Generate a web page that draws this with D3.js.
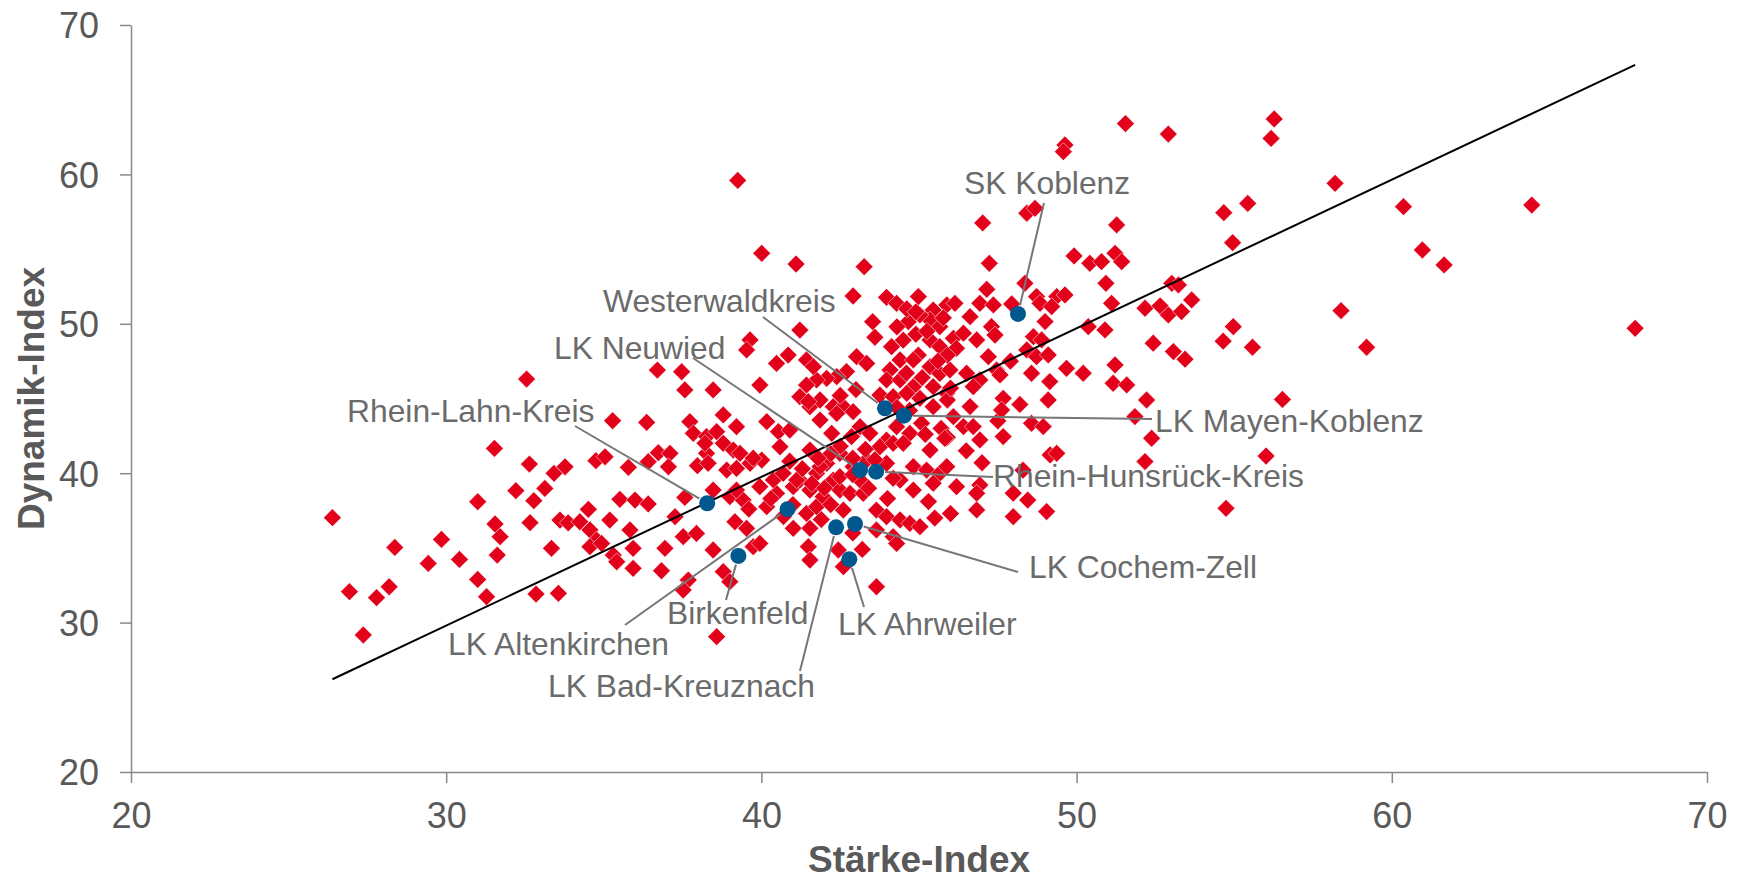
<!DOCTYPE html>
<html>
<head>
<meta charset="utf-8">
<script src="https://cdn.jsdelivr.net/npm/d3@7"></script>
<style>
body { margin: 0; background: #fff; }
text { font-family: "Liberation Sans", Arial, sans-serif; }
</style>
</head>
<body>
<svg id="chart" width="1742" height="881"></svg>
<script>

// Stärke-Index (x) / Dynamik-Index (y) for every Kreis
var kreise = [
  [32.55,46.30],[36.70,46.90],[37.47,46.79],[37.57,45.57],[35.28,43.51],[36.36,43.40],[37.73,43.45],[37.84,42.67],
  [31.53,41.66],[32.64,40.61],[33.42,39.99],[33.77,40.43],[32.21,38.83],[33.13,38.98],[32.78,38.16],[31.00,38.09],
  [26.39,37.02],[34.75,40.84],[35.04,41.10],[35.78,40.39],[36.41,40.77],[36.73,41.37],[37.10,41.33],[37.05,40.43],
  [35.51,38.25],[35.99,38.20],[36.41,37.94],[37.57,38.38],[34.51,37.58],[35.19,36.86],[33.61,36.86],[33.87,36.68],
  [34.24,36.75],[34.56,36.20],[34.77,35.53],[34.56,35.08],[34.93,35.30],[32.66,36.69],[31.55,36.60],[31.71,35.75],
  [31.62,34.52],[33.34,34.97],[29.85,35.57],[30.42,34.23],[29.43,33.96],[28.37,35.03],[31.00,32.89],[31.28,31.73],
  [26.93,32.07],[27.79,31.67],[28.19,32.40],[27.37,29.17],[32.85,31.91],[33.56,31.96],[35.30,34.52],[35.41,34.07],
  [35.93,34.97],[35.83,36.20],[35.93,33.63],[36.83,33.47],[36.94,34.97],[37.26,37.09],[37.52,35.75],[37.94,35.97],
  [37.68,32.85],[37.52,32.18],[37.97,40.50],
  [41.10,54.00],[43.26,53.82],[42.91,51.86],[43.97,51.77],[44.29,51.37],[44.98,51.82],[45.45,50.92],[45.88,51.26],
  [46.14,51.37],[45.35,50.25],[45.66,49.81],[46.09,49.03],[45.35,48.92],[45.66,48.47],[46.19,48.36],[43.53,50.14],
  [44.66,50.14],[44.98,47.91],[44.13,48.47],[44.40,47.58],[44.82,47.58],[45.35,47.13],[45.66,46.68],[45.98,46.91],
  [44.08,46.91],[43.97,46.24],[44.40,46.24],[44.82,45.79],[45.45,45.79],[45.88,45.35],[45.45,44.45],[46.09,43.78],
  [45.08,43.34],[44.71,42.67],[43.97,42.22],[44.29,43.11],[43.76,45.23],[44.18,45.12],[43.02,47.80],[43.34,47.35],
  [42.70,46.80],[42.39,46.46],[42.07,46.35],[41.75,46.24],[41.43,45.90],[41.22,45.12],[41.54,44.45],[41.86,44.90],
  [42.28,44.45],[42.60,44.45],[42.91,44.12],[43.13,43.11],[43.44,42.67],[41.22,49.58],[39.64,48.92],[39.53,48.25],
  [40.48,47.35],[40.85,47.91],[41.43,47.58],[41.65,47.13],[38.47,45.57],[39.95,45.90],[38.79,43.90],[39.21,43.11],
  [40.17,43.45],[40.54,42.78],[41.49,44.79],[40.90,42.89],[41.86,43.56],[42.23,42.67],[42.86,42.45],[38.26,42.45],
  [38.58,42.78],[42.39,44.00],[44.61,45.35],[45.03,45.01],[44.61,51.00],[45.03,50.60],[45.77,50.40],[44.90,49.30],
  [45.25,49.50],[45.90,47.90],[44.50,48.90],[45.10,46.40],[44.70,44.20],[45.90,44.90],[44.30,44.40],[45.20,42.60],
  [45.70,43.00],[45.90,42.40],
  [38.26,41.33],[38.79,42.00],[39.11,41.55],[38.31,40.66],[38.90,40.21],[39.21,40.32],[39.32,41.33],[38.21,42.00],
  [40.59,41.77],[41.54,41.55],[42.07,40.66],[43.76,41.77],[44.18,42.00],[44.50,42.00],[45.35,41.55],[44.82,40.44],
  [45.24,40.21],[45.66,39.99],[45.88,40.44],[44.40,39.54],[44.82,38.87],[46.19,39.10],[45.45,39.32],[38.47,38.87],
  [39.00,38.43],[39.42,38.20],[39.21,38.87],[39.95,39.10],[40.17,37.76],[40.48,38.65],[41.01,39.10],[41.22,39.54],
  [41.54,38.87],[41.75,39.99],[41.43,37.31],[41.75,37.76],[41.96,38.43],[42.28,39.54],[42.49,38.87],[42.81,38.65],
  [42.60,37.53],[43.23,38.65],[43.65,37.53],[43.97,37.09],[44.40,36.87],[44.71,36.64],[45.03,36.42],[43.65,36.20],
  [44.18,35.75],[44.29,35.30],[39.16,36.75],[39.53,36.31],[39.74,35.08],[39.95,35.30],[41.01,36.31],[41.54,36.31],
  [41.49,35.08],[41.54,34.19],[42.44,34.86],[42.60,33.74],[38.47,34.86],[38.79,33.41],[39.00,32.74],[43.65,32.40],
  [38.58,29.06],[39.64,40.66],[40.01,40.88],[40.38,39.55],[40.69,39.99],[41.12,39.55],[41.86,40.44],[42.49,39.77],
  [44.18,39.66],[39.74,41.00],[45.82,42.33],[42.91,40.44],[43.34,40.88],[43.13,39.54],[43.97,40.66],[42.49,41.33],
  [42.50,41.80],[42.90,41.00],[43.30,41.60],[43.60,40.90],[42.20,41.30],[41.80,41.00],[41.30,40.30],[40.90,40.80],
  [41.60,39.30],[42.00,39.00],[42.90,39.90],[43.40,39.00],[42.20,37.90],[41.00,37.90],[40.70,37.10],[41.90,36.90],
  [42.90,36.00],[43.20,34.90],[40.30,38.30],[39.60,37.60],
  [44.30,49.80],[44.90,50.80],[45.60,47.50],[46.00,45.70],[44.60,46.70],[43.60,49.10],[43.00,45.60],[42.50,45.20],
  [47.20,47.80],[47.90,47.50],[47.50,43.50],[48.20,44.60],[47.00,40.70],[46.50,41.50],[48.30,40.20],[45.30,38.10],
  [44.00,38.30],[46.00,37.30],[45.50,37.00],
  [47.02,56.75],[48.42,57.40],[48.68,57.73],[51.27,56.62],[54.67,57.44],[54.95,55.43],[47.23,54.05],[49.92,54.54],
  [50.42,54.05],[50.79,54.16],[51.22,54.72],[51.43,54.16],[50.93,52.71],[48.36,52.71],[47.15,52.31],[46.93,51.37],
  [47.36,51.26],[47.94,51.33],[48.73,51.82],[48.84,51.37],[49.37,51.82],[49.63,51.93],[49.21,51.15],[51.11,51.37],
  [53.02,52.71],[53.23,52.60],[52.17,51.04],[52.65,51.20],[52.91,50.59],[53.33,50.82],[53.65,51.60],[46.62,50.48],
  [46.41,49.37],[46.83,48.92],[47.30,49.81],[47.41,49.25],[48.63,49.14],[48.89,48.92],[49.00,50.15],[50.37,49.81],
  [50.90,49.59],[52.43,48.70],[53.07,48.14],[53.44,47.63],[54.65,48.84],[54.97,49.81],[48.42,48.25],[48.73,47.80],
  [49.10,47.92],[46.51,46.69],[46.93,46.24],[46.72,45.79],[47.46,46.91],[47.57,46.58],[48.57,46.69],[49.15,46.13],
  [49.68,47.02],[50.21,46.69],[51.22,47.25],[51.16,46.02],[51.59,45.91],[52.22,44.90],[49.10,44.90],[47.67,45.01],
  [47.62,44.23],[46.62,44.46],[46.41,43.12],[46.72,43.12],[46.93,42.23],[47.67,42.45],[48.57,43.34],[48.94,43.12],
  [51.85,43.79],[52.38,42.34],[49.16,41.22],[49.37,41.33],[52.17,40.78],[46.93,39.21],[46.83,38.66],[47.99,38.66],
  [48.45,38.20],[46.83,37.54],[47.99,37.09],[49.05,37.43],
  [49.63,61.97],[49.58,61.52],[52.91,62.70],[51.55,63.40],
  [56.27,63.71],[56.17,62.41],[58.20,59.40],[55.43,58.06],[60.37,57.84],[64.44,57.95],[60.97,54.94],[61.66,53.94],
  [58.39,50.88],[55.58,48.43],[59.20,48.43],[67.72,49.70],[56.53,44.94],[56.01,41.15],[54.74,37.65],
  [40.01,54.72],[39.25,59.60]
];

// highlighted Kreise around Koblenz
var regionNames = ["SK Koblenz", "Westerwaldkreis", "LK Mayen-Koblenz", "LK Neuwied", "Rhein-Hunsrück-Kreis",
  "Rhein-Lahn-Kreis", "LK Altenkirchen", "LK Bad-Kreuznach", "LK Cochem-Zell", "LK Ahrweiler", "Birkenfeld"];
var regionStaerke = [48.14, 43.92, 44.52, 43.13, 43.64, 38.28, 40.83, 42.37, 42.97, 42.79, 39.27];
var regionDynamik = [50.66, 44.34, 43.85, 40.21, 40.10, 37.99, 37.59, 36.38, 36.60, 34.24, 34.46];

// linear trend line
var trendSlope = 0.995;
var trendIntercept = -0.05;

var xTicks = [20, 30, 40, 50, 60, 70];
var yTicks = [20, 30, 40, 50, 60, 70];

// where each label sits: text start [x, baseline] and end of leader line, in pixels
var labelLayout = {
  "SK Koblenz":           {tx: 964,  ty: 194, lx: 1044, ly: 203},
  "Westerwaldkreis":      {tx: 603,  ty: 312, lx: 763,  ly: 317},
  "LK Mayen-Koblenz":     {tx: 1155, ty: 432, lx: 1152, ly: 419},
  "LK Neuwied":           {tx: 554,  ty: 359, lx: 693,  ly: 358},
  "Rhein-Hunsrück-Kreis": {tx: 993,  ty: 487, lx: 993,  ly: 477},
  "Rhein-Lahn-Kreis":     {tx: 347,  ty: 422, lx: 575,  ly: 426},
  "LK Altenkirchen":      {tx: 448,  ty: 655, lx: 625,  ly: 625},
  "LK Bad-Kreuznach":     {tx: 548,  ty: 697, lx: 800,  ly: 671},
  "LK Cochem-Zell":       {tx: 1029, ty: 578, lx: 1018, ly: 572},
  "LK Ahrweiler":         {tx: 838,  ty: 635, lx: 864,  ly: 607},
  "Birkenfeld":           {tx: 667,  ty: 624, lx: 726,  ly: 600}
};

var svg = d3.select("#chart");

var x = d3.scaleLinear().domain([20, 70]).range([131, 1707]);
var y = d3.scaleLinear().domain([20, 70]).range([772, 25]);

var axisColor = "#898989";

// axes
var yAxis = svg.append("g")
    .attr("transform", "translate(131,0)")
    .call(d3.axisLeft(y).tickValues(yTicks).tickSize(11).tickSizeOuter(0).tickPadding(21).tickFormat(d3.format("d")));

var xAxis = svg.append("g")
    .attr("transform", "translate(0,772)")
    .call(d3.axisBottom(x).tickValues(xTicks).tickSize(11).tickSizeOuter(0).tickPadding(19).tickFormat(d3.format("d")));

[xAxis, yAxis].forEach(function(g) {
    g.attr("font-family", null).attr("font-size", null);
    g.select(".domain").attr("stroke", axisColor).attr("stroke-width", 1.5);
    g.selectAll(".tick line").attr("stroke", axisColor).attr("stroke-width", 1.5);
    g.selectAll(".tick text").attr("fill", "#595959").style("font-size", "36px");
});
yAxis.selectAll(".tick text").attr("dy", "0.36em");

// axis titles
svg.append("text")
    .attr("x", (x(20) + x(70)) / 2)
    .attr("y", 872)
    .attr("text-anchor", "middle")
    .attr("fill", "#595959")
    .style("font-size", "37px")
    .style("font-weight", "bold")
    .text("Stärke-Index");

svg.append("text")
    .attr("transform", "translate(44," + ((y(20) + y(70)) / 2) + ") rotate(-90)")
    .attr("text-anchor", "middle")
    .attr("fill", "#595959")
    .style("font-size", "37px")
    .style("font-weight", "bold")
    .text("Dynamik-Index");

// red diamonds
var diamond = d3.symbol().type(d3.symbolSquare).size(158);

svg.append("g")
    .selectAll("path")
    .data(kreise)
    .enter()
    .append("path")
    .attr("d", diamond)
    .attr("transform", function(d) {
        return "translate(" + x(d[0]) + "," + y(d[1]) + ") rotate(45)";
    })
    .attr("fill", "#e2001a")
    .attr("stroke", "#ffffff")
    .attr("stroke-width", 0.5);

// trend line over min..max of all points
var allX = kreise.map(function(d) { return d[0]; }).concat(regionStaerke);
var ext = d3.extent(allX);

svg.append("line")
    .attr("x1", x(ext[0]))
    .attr("y1", y(trendSlope * ext[0] + trendIntercept))
    .attr("x2", x(ext[1]))
    .attr("y2", y(trendSlope * ext[1] + trendIntercept))
    .attr("stroke", "#000")
    .attr("stroke-width", 2);

var regions = regionNames.map(function(n, i) {
    return {name: n, sx: regionStaerke[i], dy: regionDynamik[i], lay: labelLayout[n]};
});

var dotR = 8;

// leader lines from the dot edge to the label
svg.append("g")
    .selectAll("line")
    .data(regions)
    .enter()
    .append("line")
    .each(function(d) {
        var cx = x(d.sx), cy = y(d.dy);
        var vx = d.lay.lx - cx, vy = d.lay.ly - cy;
        var len = Math.sqrt(vx * vx + vy * vy);
        d3.select(this)
            .attr("x1", cx + vx / len * (dotR + 1))
            .attr("y1", cy + vy / len * (dotR + 1))
            .attr("x2", d.lay.lx)
            .attr("y2", d.lay.ly);
    })
    .attr("stroke", "#767676")
    .attr("stroke-width", 2);

// blue dots
svg.append("g")
    .selectAll("circle")
    .data(regions)
    .enter()
    .append("circle")
    .attr("cx", function(d) { return x(d.sx); })
    .attr("cy", function(d) { return y(d.dy); })
    .attr("r", dotR)
    .attr("fill", "#00588f");

// labels
svg.append("g")
    .selectAll("text")
    .data(regions)
    .enter()
    .append("text")
    .attr("x", function(d) { return d.lay.tx; })
    .attr("y", function(d) { return d.lay.ty; })
    .attr("fill", "#6b6b6b")
    .style("font-size", "31.8px")
    .text(function(d) { return d.name; });

</script>
</body>
</html>
